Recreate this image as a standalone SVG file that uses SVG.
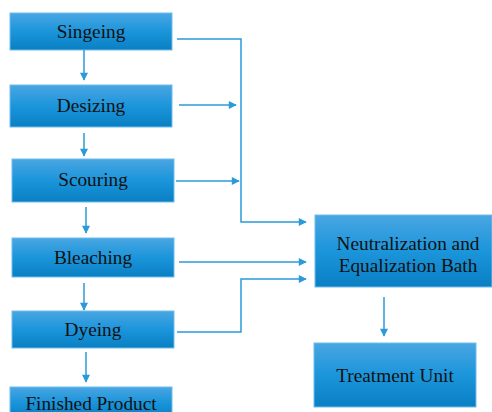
<svg xmlns="http://www.w3.org/2000/svg" width="492" height="412" viewBox="0 0 492 412">
<defs>
<linearGradient id="g" x1="0" y1="0" x2="0" y2="1">
<stop offset="0" stop-color="#4aa6e2"/>
<stop offset="0.5" stop-color="#1b95db"/>
<stop offset="1" stop-color="#0a7fc3"/>
</linearGradient>
<marker id="a" viewBox="0 0 10 10" refX="9" refY="5" markerWidth="10" markerHeight="8" markerUnits="userSpaceOnUse" orient="auto">
<path d="M0,0 L10,5 L0,10 Z" fill="#2b9ad9"/>
</marker>
<style>
.b{fill:url(#g);stroke:#6ebdea;stroke-width:1}
.t{font-family:'Liberation Serif','Times New Roman',serif;font-size:19.3px;fill:#111;text-anchor:middle}
.c{fill:none;stroke:#2b9ad9;stroke-width:1.5;marker-end:url(#a)}
</style>
</defs>
<rect width="492" height="412" fill="#fff"/>
<g id="singeing"><rect class="b" x="10" y="13" width="162" height="37"/><text class="t" x="91" y="38">Singeing</text></g>
<g id="desizing"><rect class="b" x="10" y="85" width="162" height="42"/><text class="t" x="91" y="112">Desizing</text></g>
<g id="scouring"><rect class="b" x="12" y="159" width="162" height="43"/><text class="t" x="93" y="186">Scouring</text></g>
<g id="bleaching"><rect class="b" x="12" y="238" width="162" height="39"/><text class="t" x="93" y="264">Bleaching</text></g>
<g id="dyeing"><rect class="b" x="12" y="311" width="162" height="37"/><text class="t" x="93" y="336">Dyeing</text></g>
<g id="finished"><rect class="b" x="10" y="387" width="162" height="30"/><text class="t" x="91" y="410">Finished Product</text></g>
<g id="neutralization"><rect class="b" x="315" y="215" width="177" height="72"/><text class="t" x="408" y="250">Neutralization and</text><text class="t" x="408" y="272">Equalization Bath</text></g>
<g id="treatment"><rect class="b" x="314" y="343" width="162" height="64"/><text class="t" x="395" y="382">Treatment Unit</text></g>
<g id="connectors">
<line class="c" x1="84" y1="50" x2="84" y2="80"/>
<line class="c" x1="84" y1="133" x2="84" y2="156"/>
<line class="c" x1="86" y1="207" x2="86" y2="233"/>
<line class="c" x1="84" y1="283" x2="84" y2="310"/>
<line class="c" x1="86" y1="352" x2="86" y2="382"/>
<line class="c" x1="384" y1="297" x2="384" y2="336"/>
<polyline class="c" points="177,39 241,39 241,222 306,222"/>
<line class="c" x1="179" y1="105" x2="236" y2="105"/>
<line class="c" x1="176" y1="181" x2="239" y2="181"/>
<line class="c" x1="179" y1="262" x2="306" y2="262"/>
<polyline class="c" points="177,332 241,332 241,279 306,279"/>
</g>
</svg>
